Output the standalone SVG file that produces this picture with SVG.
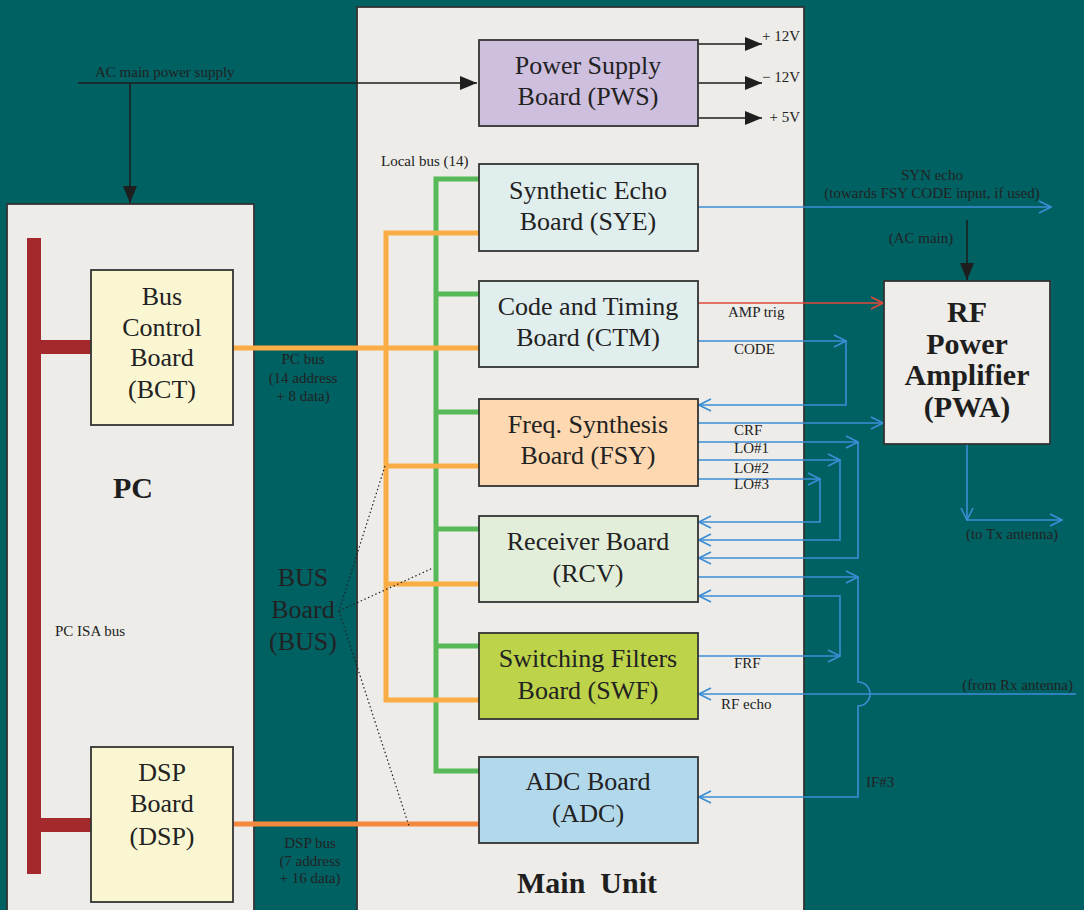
<svg xmlns="http://www.w3.org/2000/svg" width="1084" height="910" viewBox="0 0 1084 910">
<style>
.box{stroke:#333;stroke-width:1.8}
.bt{font-family:"Liberation Serif",serif;font-size:26px;fill:#222;text-anchor:middle}
.bb{font-family:"Liberation Serif",serif;font-size:30px;font-weight:bold;fill:#1e1e1e;text-anchor:middle}
.st{font-family:"Liberation Serif",serif;font-size:15px;fill:#222}
.stc{font-family:"Liberation Serif",serif;font-size:15px;fill:#222;text-anchor:middle}
.blk{stroke:#1e1e1e;stroke-width:1.6;fill:none}
.blu{stroke:#3b8ed6;stroke-width:1.6;fill:none}
.red{stroke:#e0483a;stroke-width:1.6;fill:none}
.grn{stroke:#57b957;stroke-width:5;fill:none}
.org{stroke:#fbad45;stroke-width:5;fill:none}
.dot{stroke:#222;stroke-width:1.2;stroke-dasharray:1.5 2.5;fill:none}
</style>
<defs>
<marker id="ab" markerUnits="userSpaceOnUse" markerWidth="18" markerHeight="14" refX="17" refY="7" orient="auto"><path d="M0,0 L17,7 L0,14 z" fill="#1e1e1e"/></marker>
<marker id="ob" markerUnits="userSpaceOnUse" markerWidth="14" markerHeight="14" refX="13" refY="7" orient="auto"><path d="M1,1 L13,7 L1,13" fill="none" stroke="#3b8ed6" stroke-width="1.6"/></marker>
<marker id="or" markerUnits="userSpaceOnUse" markerWidth="14" markerHeight="14" refX="13" refY="7" orient="auto"><path d="M1,1 L13,7 L1,13" fill="none" stroke="#e0483a" stroke-width="1.6"/></marker>
</defs>
<rect x="0" y="0" width="1084" height="910" fill="#006163"/>
<g id="pc">
<rect x="7" y="204" width="247" height="720" fill="#edece8" class="box"/>
<text class="bb" x="133" y="498">PC</text>
<text class="st" x="55" y="636">PC ISA bus</text>
</g>
<g id="main-unit">
<rect x="357" y="7" width="447" height="920" fill="#edece8" class="box"/>
<text class="bb" x="587" y="893">Main&#160; Unit</text>
<text class="st" x="381" y="166">Local bus (14)</text>
</g>
<g id="isa-bus">
<rect x="27" y="238" width="14" height="636" fill="#a3292d"/>
<rect x="41" y="340" width="50" height="14" fill="#a3292d"/>
<rect x="41" y="818" width="50" height="14" fill="#a3292d"/>
</g>
<g id="connectors">
<path class="blk" d="M78,83 H477" marker-end="url(#ab)"/>
<path class="blk" d="M130,83 V203" marker-end="url(#ab)"/>
<path class="blk" d="M698,44 H762" marker-end="url(#ab)"/>
<path class="blk" d="M698,83 H762" marker-end="url(#ab)"/>
<path class="blk" d="M698,118 H762" marker-end="url(#ab)"/>
<path class="blk" d="M967,220 V280" marker-end="url(#ab)"/>
<path class="grn" d="M479,179 H436 V771 H479 M436,294 H479 M436,412 H479 M436,529 H479 M436,646 H479"/>
<path class="org" d="M479,233 H386 V700 H479 M386,466 H479 M386,584 H479 M233,348 H479"/>
<path d="M233,824 H479" stroke="#f5883f" stroke-width="5" fill="none"/>
<path class="dot" d="M385,466 L339,611 L433,568 M339,611 L409,826"/>
<path class="blu" d="M698,207 H1051" marker-end="url(#ob)"/>
<path class="red" d="M698,303 H883" marker-end="url(#or)"/>
<path class="blu" d="M698,341 H846"  marker-end="url(#ob)"/>
<path class="blu" d="M846,341 V405 H699" marker-end="url(#ob)"/>
<path class="blu" d="M698,423 H883" marker-end="url(#ob)"/>
<path class="blu" d="M698,442 H858" marker-end="url(#ob)"/>
<path class="blu" d="M858,442 V558 H699" marker-end="url(#ob)"/>
<path class="blu" d="M698,460 H840" marker-end="url(#ob)"/>
<path class="blu" d="M840,460 V540 H699" marker-end="url(#ob)"/>
<path class="blu" d="M698,479 H820" marker-end="url(#ob)"/>
<path class="blu" d="M820,479 V522 H699" marker-end="url(#ob)"/>
<path class="blu" d="M967,444 V520" marker-end="url(#ob)"/>
<path class="blu" d="M967,520 H1062" marker-end="url(#ob)"/>
<path class="blu" d="M698,577 H858" marker-end="url(#ob)"/>
<path class="blu" d="M858,577 V682 A12,12 0 0 1 858,706 V797 H699" marker-end="url(#ob)"/>
<path class="blu" d="M698,656 H840" marker-end="url(#ob)"/>
<path class="blu" d="M840,656 V596 H699" marker-end="url(#ob)"/>
<path class="blu" d="M1076,694 H699" marker-end="url(#ob)"/>
</g>
<g id="labels">
<text class="st" x="95" y="77">AC main power supply</text>
<text class="st" x="800" y="41" text-anchor="end">+ 12V</text>
<text class="st" x="800" y="82" text-anchor="end">− 12V</text>
<text class="st" x="800" y="122" text-anchor="end">+ 5V</text>
<text class="stc" x="932" y="180">SYN echo</text>
<text class="stc" x="932" y="198">(towards FSY CODE input, if used)</text>
<text class="stc" x="921" y="243">(AC main)</text>
<text class="st" x="728" y="317">AMP trig</text>
<text class="st" x="734" y="354">CODE</text>
<text class="st" x="734" y="435">CRF</text>
<text class="st" x="734" y="453">LO#1</text>
<text class="st" x="734" y="473">LO#2</text>
<text class="st" x="734" y="489">LO#3</text>
<text class="stc" x="1012" y="539">(to Tx antenna)</text>
<text class="st" x="734" y="668">FRF</text>
<text class="st" x="721" y="709">RF echo</text>
<text class="st" x="1073" y="690" text-anchor="end">(from Rx antenna)</text>
<text class="st" x="866" y="787">IF#3</text>
<text class="stc" x="303" y="364">PC bus</text>
<text class="stc" x="303" y="383">(14 address</text>
<text class="stc" x="303" y="401">+ 8 data)</text>
<text class="stc" x="310" y="848">DSP bus</text>
<text class="stc" x="310" y="866">(7 address</text>
<text class="stc" x="310" y="883">+ 16 data)</text>
</g>
<g id="bus">
<text class="bt" x="303" y="586">BUS</text>
<text class="bt" x="303" y="618">Board</text>
<text class="bt" x="303" y="650">(BUS)</text>
</g>
<g id="pws">
<rect x="479" y="40" width="219" height="86" fill="#cfbfdf" class="box"/>
<text class="bt" x="588" y="74">Power Supply</text>
<text class="bt" x="588" y="105">Board (PWS)</text>
</g>
<g id="sye">
<rect x="479" y="164" width="219" height="87" fill="#e1eeee" class="box"/>
<text class="bt" x="588" y="199">Synthetic Echo</text>
<text class="bt" x="588" y="230">Board (SYE)</text>
</g>
<g id="ctm">
<rect x="479" y="281" width="219" height="86" fill="#e1eeee" class="box"/>
<text class="bt" x="588" y="315">Code and Timing</text>
<text class="bt" x="588" y="346">Board (CTM)</text>
</g>
<g id="fsy">
<rect x="479" y="399" width="219" height="87" fill="#fdd8b0" class="box"/>
<text class="bt" x="588" y="433">Freq. Synthesis</text>
<text class="bt" x="588" y="464">Board (FSY)</text>
</g>
<g id="rcv">
<rect x="479" y="516" width="219" height="86" fill="#e2eeda" class="box"/>
<text class="bt" x="588" y="550">Receiver Board</text>
<text class="bt" x="588" y="582">(RCV)</text>
</g>
<g id="swf">
<rect x="479" y="633" width="219" height="86" fill="#bdd349" class="box"/>
<text class="bt" x="588" y="667">Switching Filters</text>
<text class="bt" x="588" y="699">Board (SWF)</text>
</g>
<g id="adc">
<rect x="479" y="757" width="219" height="86" fill="#b2d8ec" class="box"/>
<text class="bt" x="588" y="790">ADC Board</text>
<text class="bt" x="588" y="822">(ADC)</text>
</g>
<g id="bct">
<rect x="91" y="270" width="142" height="155" fill="#faf6d2" class="box"/>
<text class="bt" x="162" y="305">Bus</text>
<text class="bt" x="162" y="336">Control</text>
<text class="bt" x="162" y="366">Board</text>
<text class="bt" x="162" y="398">(BCT)</text>
</g>
<g id="dsp">
<rect x="91" y="747" width="142" height="155" fill="#faf6d2" class="box"/>
<text class="bt" x="162" y="781">DSP</text>
<text class="bt" x="162" y="812">Board</text>
<text class="bt" x="162" y="845">(DSP)</text>
</g>
<g id="pwa">
<rect x="884" y="281" width="166" height="163" fill="#eeede9" class="box"/>
<text class="bb" x="967" y="322">RF</text>
<text class="bb" x="967" y="354">Power</text>
<text class="bb" x="967" y="385">Amplifier</text>
<text class="bb" x="967" y="417">(PWA)</text>
</g>
</svg>
